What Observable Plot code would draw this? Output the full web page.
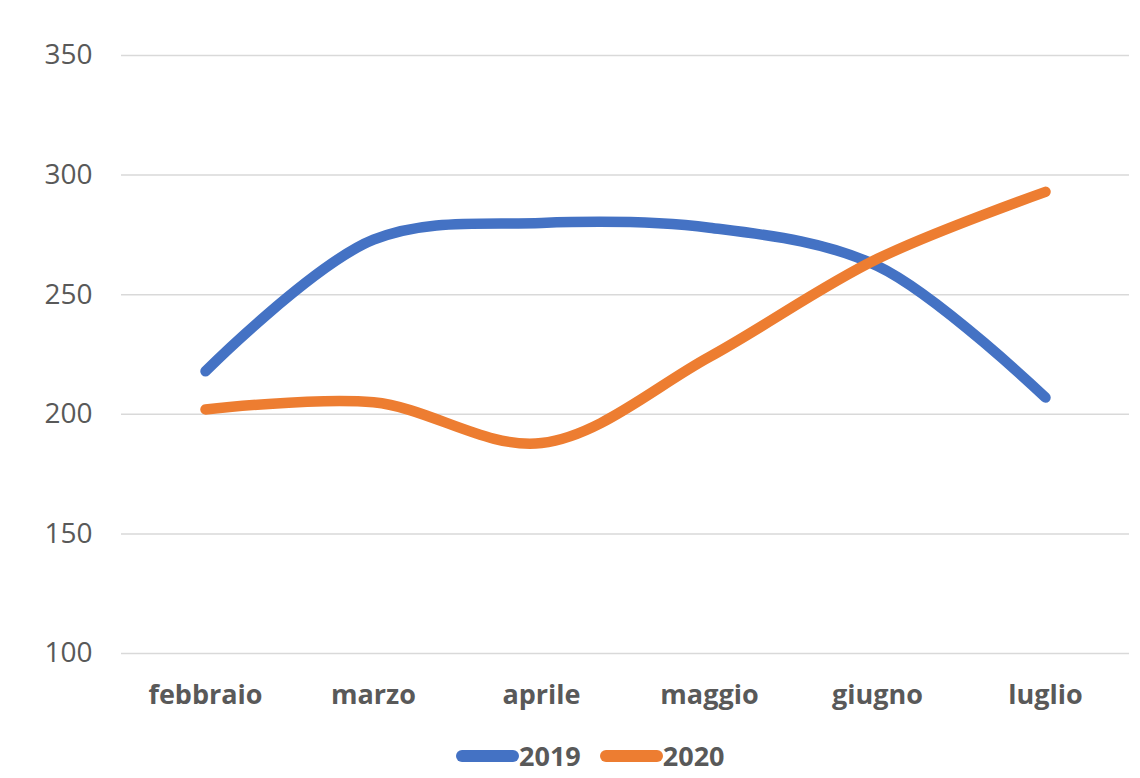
<!DOCTYPE html>
<html>
<head>
<meta charset="utf-8">
<script src="https://cdn.jsdelivr.net/npm/d3@7"></script>
<script src="https://cdn.jsdelivr.net/npm/@observablehq/plot@0.6"></script>
<style>
  body { margin: 0; background: #fff; font-family: "Open Sans", sans-serif; }
  #legend { display: flex; align-items: center; padding-left: 456px; margin-top: 22px; }
  #legend .item { display: flex; align-items: center; margin-right: 19px; }
  #legend .label { font-size: 27px; font-weight: bold; color: #595959; line-height: 1; }
</style>
</head>
<body>
<div id="chart"></div>
<div id="legend"></div>
<script>
// Monthly values per year
const months = ["febbraio", "marzo", "aprile", "maggio", "giugno", "luglio"];
const values2019 = [218, 273, 280, 278, 262, 207];
const values2020 = [202, 205, 188, 224, 265, 293];
const seriesNames = ["2019", "2020"];
const seriesColors = ["#4472C4", "#ED7D31"];
const yTicks = [100, 150, 200, 250, 300, 350];

const seriesValues = [values2019, values2020];
const rows = seriesNames.flatMap((name, s) =>
  months.map((month, i) => ({ month, value: seriesValues[s][i], series: name }))
);

const chart = Plot.plot({
  width: 1140,
  height: 720,
  marginTop: 55,
  marginBottom: 67,
  marginLeft: 121,
  marginRight: 11,
  x: { type: "point", domain: months, padding: 0.5, label: null },
  y: { domain: [100, 350], label: null },
  color: { domain: seriesNames, range: seriesColors },
  style: { fontFamily: "Open Sans", color: "#595959", background: "#fff" },
  marks: [
    Plot.ruleY(yTicks, { stroke: "#d9d9d9", strokeWidth: 1.5 }),
    Plot.axisY({ ticks: yTicks, tickSize: 0, tickPadding: 29, fontSize: 28, label: null, fill: "#595959" }),
    Plot.axisX({ tickSize: 0, tickPadding: 31, fontSize: 27, fontWeight: "bold", label: null, fill: "#595959" }),
    Plot.line(rows, {
      x: "month",
      y: "value",
      z: "series",
      stroke: "series",
      curve: "catmull-rom",
      strokeWidth: 10.5,
      strokeLinecap: "round",
      strokeLinejoin: "round"
    })
  ]
});
document.getElementById("chart").append(chart);

// Legend with line swatches
const legend = d3.select("#legend");
seriesNames.forEach((name, i) => {
  const item = legend.append("div").attr("class", "item");
  const sw = item.append("svg").attr("width", 63).attr("height", 14);
  sw.append("line")
    .attr("x1", 6).attr("x2", 57).attr("y1", 7).attr("y2", 7)
    .attr("stroke", seriesColors[i]).attr("stroke-width", 12).attr("stroke-linecap", "round");
  item.append("span").attr("class", "label").text(name);
});
</script>
</body>
</html>
